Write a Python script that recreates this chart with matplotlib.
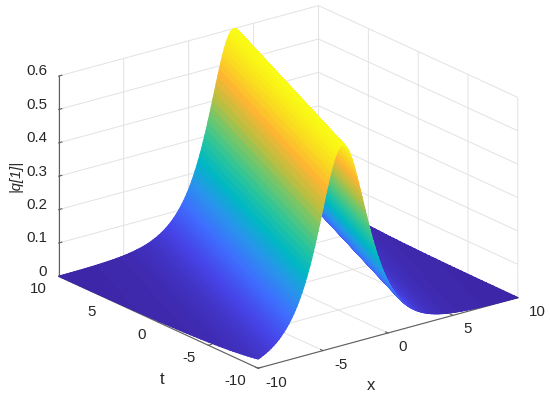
import numpy as np
import matplotlib
matplotlib.use("Agg")
import matplotlib.pyplot as plt
from matplotlib.colors import LinearSegmentedColormap

# grid of the surface, x every 0.125, one row of t for every cell the ridge moves
x = np.arange(-10, 10.001, 0.125)
t = np.linspace(-10, 10, 57)

# height against distance from the ridge (0.125 apart)
half_profile = [0.6, 0.5984, 0.5937, 0.5861, 0.5757, 0.5626, 0.5475, 0.5302, 0.5115, 0.4916,
                0.4708, 0.4494, 0.4277, 0.4060, 0.3844, 0.3632, 0.3425, 0.3225, 0.3031, 0.2846,
                0.2668, 0.2499, 0.2339, 0.2187, 0.2043, 0.1908, 0.1781, 0.1661, 0.1549, 0.1444,
                0.1346, 0.1254, 0.1168, 0.1088, 0.1013, 0.0943, 0.0878, 0.0817, 0.0760, 0.0707,
                0.0658, 0.0613, 0.0570, 0.0530, 0.0493, 0.0459, 0.0427, 0.0397, 0.0369, 0.0343,
                0.0319, 0.0297, 0.0276, 0.0257, 0.0239, 0.0222, 0.0207, 0.0192, 0.0179, 0.0166,
                0.0155, 0.0144, 0.0134, 0.0125, 0.0116, 0.0108, 0.0100, 0.0093, 0.0087, 0.0081,
                0.0075, 0.0070, 0.0065, 0.0060, 0.0056, 0.0052, 0.0049, 0.0045, 0.0042, 0.0039,
                0.0036, 0.0034, 0.0031, 0.0029, 0.0027, 0.0025, 0.0023, 0.0021, 0.0020, 0.0019,
                0.0017, 0.0016, 0.0015, 0.0014, 0.0013, 0.0012, 0.0011, 0.0010, 0.0010, 0.0009,
                0.0008, 0.0008, 0.0007, 0.0007, 0.0006, 0.0006, 0.0005, 0.0005, 0.0005]
profile = np.array(half_profile[::-1] + half_profile[1:])

x_ticks = [-10, -5, 0, 5, 10]
t_ticks = [-10, -5, 0, 5, 10]
z_ticks = [0, 0.1, 0.2, 0.3, 0.4, 0.5, 0.6]
z_labels = ["0", "0.1", "0.2", "0.3", "0.4", "0.5", "0.6"]

parula_colors = [(0.2422, 0.1504, 0.6603), (0.2760, 0.2670, 0.9130), (0.2440, 0.4358, 0.9988),
                 (0.1540, 0.5902, 0.9218), (0.0000, 0.7200, 0.7700), (0.1600, 0.7700, 0.6200),
                 (0.4200, 0.7800, 0.4400), (0.7400, 0.7500, 0.2500), (1.0000, 0.7100, 0.2000),
                 (0.9800, 0.8600, 0.1300), (0.9769, 0.9839, 0.0805)]
parula = LinearSegmentedColormap.from_list("parula", parula_colors)

plt.rcParams["font.family"] = ["Liberation Sans", "DejaVu Sans"]

# x=-10 is 52 cells left of the ridge at t=-10, one cell further each row
rows = []
for i in range(len(t)):
    start = 56 - i
    rows.append(profile[start: start + len(x)])
Z = np.array(rows)
X, T = np.meshgrid(x, t)

# split the cells along the lines of equal height
triangles = []
nx = len(x)
for i in range(len(t) - 1):
    for j in range(nx - 1):
        a = i * nx + j
        triangles.append([a, a + 1, a + nx + 1])
        triangles.append([a, a + nx + 1, a + nx])

fig = plt.figure(figsize=(5.5, 3.99), dpi=100)
side = 495.3
cx, cy = 281.6, 193.6
ax = fig.add_axes([(cx - side / 2) / 550, (399 - cy - side / 2) / 399, side / 550, side / 399],
                  projection="3d", proj_type="ortho")
ax.view_init(elev=20.7, azim=-127.5)
ax.set_box_aspect((1, 1, 0.654), zoom=1)

surf = ax.plot_trisurf(X.ravel(), T.ravel(), Z.ravel(), triangles=np.array(triangles), cmap=parula,
                       vmin=0, vmax=0.6, linewidth=0.8, antialiased=True, shade=False)
surf.set_edgecolor("face")

ax.set_xlim(-10, 10)
ax.set_ylim(-10, 10)
ax.set_zlim(0, 0.6)
ax.set_xticks(x_ticks)
ax.set_yticks(t_ticks)
ax.set_zticks(z_ticks)
# mplot3d cannot place these where matlab does, so the labels are written below
ax.set_xticklabels([""] * len(x_ticks))
ax.set_yticklabels([""] * len(t_ticks))
ax.set_zticklabels([""] * len(z_ticks))

for axis in (ax.xaxis, ax.yaxis, ax.zaxis):
    axis.set_pane_color((1, 1, 1, 1))
    axis.pane.set_edgecolor("none")
    axis.line.set_color("#5f5f5f")
    axis.line.set_linewidth(0.8)
    axis._axinfo["grid"]["color"] = "#e2e2e2"
    axis._axinfo["grid"]["linewidth"] = 0.7
    axis._axinfo["tick"]["inward_factor"] = 0
    axis._axinfo["tick"]["outward_factor"] = 0.15
    axis.set_tick_params(color="#5f5f5f")


def put(px, py, s, **kw):
    fig.text(px / 550, 1 - py / 399, s, color="#262626", **kw)


x_label_px = [(276, 383), (341, 365), (403, 347), (468, 329), (537, 312)]
t_label_px = [(235, 381), (189, 358), (142, 335), (92, 312), (38, 289)]
z_label_y = [272, 238, 205, 172, 138, 105, 71]

for v, (px, py) in zip(x_ticks, x_label_px):
    put(px, py, str(v), fontsize=10.8, ha="center", va="center")
for v, (px, py) in zip(t_ticks, t_label_px):
    put(px, py, str(v), fontsize=10.8, ha="center", va="center")
for s, py in zip(z_labels, z_label_y):
    put(47, py, s, fontsize=10.8, ha="right", va="center")

put(162, 380, "t", fontsize=12, ha="center", va="center")
put(371, 386, "x", fontsize=12, ha="center", va="center")
put(15, 176, "|q[1]|", fontsize=10.5, style="italic", rotation=90, ha="center", va="center")

fig.savefig("out.png", dpi=100)
